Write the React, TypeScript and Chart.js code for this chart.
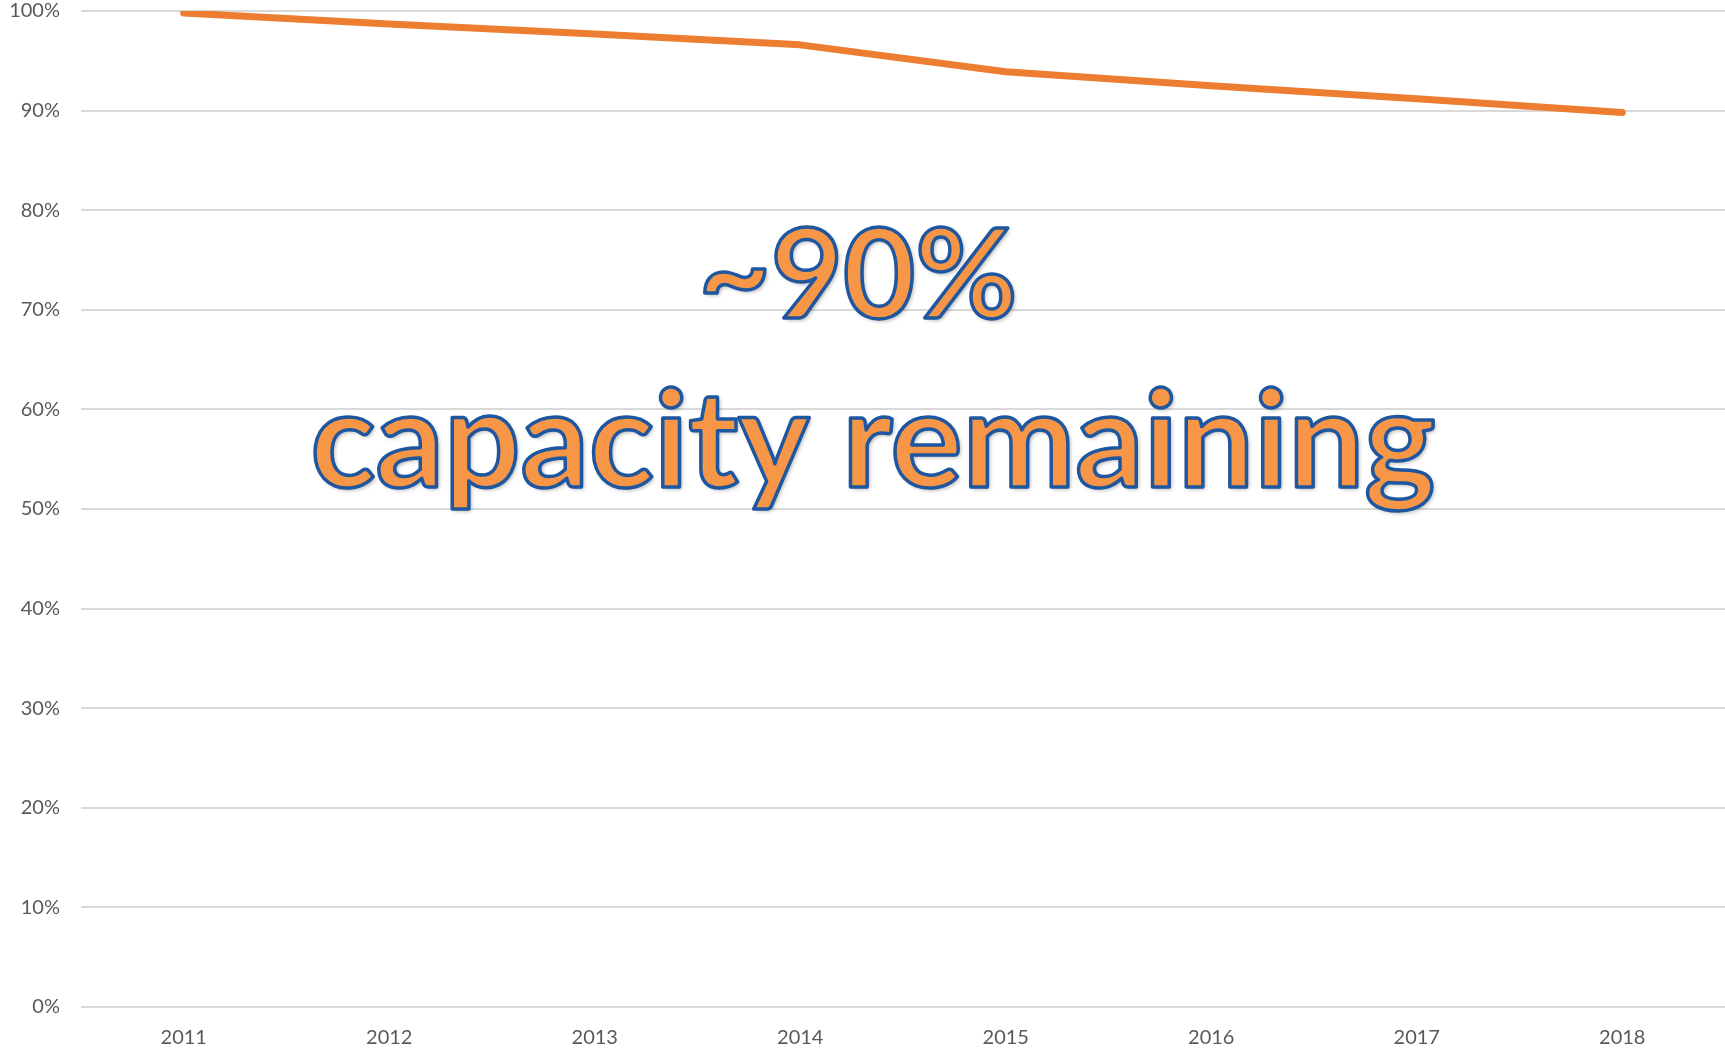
import React, { useEffect, useRef } from "react";
import { Chart, registerables } from "chart.js";

Chart.register(...registerables);

const years = ["2011", "2012", "2013", "2014", "2015", "2016", "2017", "2018"];
const capacity = [99.8, 98.7, 97.7, 96.6, 93.9, 92.5, 91.2, 89.8];
const headline = "~90%";
const subline = "capacity remaining";

const overlayPlugin = {
  id: "overlayText",
  afterDraw(chart: any) {
    const ctx = chart.ctx as CanvasRenderingContext2D;
    ctx.save();
    ctx.textAlign = "center";
    ctx.textBaseline = "alphabetic";
    const drawLine = (text: string, cx: number, baseline: number, targetWidth: number) => {
      ctx.font = "bold 150px Lato";
      const w = ctx.measureText(text).width;
      const size = 150 * targetWidth / w;
      ctx.font = `bold ${size}px Lato`;
      ctx.shadowColor = "rgba(0,0,0,0.35)";
      ctx.shadowBlur = 4;
      ctx.shadowOffsetX = 2;
      ctx.shadowOffsetY = 2;
      ctx.fillStyle = "#F79646";
      ctx.fillText(text, cx, baseline);
      ctx.shadowColor = "transparent";
      ctx.lineWidth = 3.5;
      ctx.lineJoin = "round";
      ctx.strokeStyle = "#1E56A0";
      ctx.strokeText(text, cx, baseline);
    };
    drawLine(headline, 858, 318, 319);
    drawLine(subline, 873, 487, 1125);
    ctx.restore();
  },
};

export default function App() {
  const ref = useRef<HTMLCanvasElement>(null);
  useEffect(() => {
    document.body.style.margin = "0";
    const chart = new Chart(ref.current!, {
      type: "line",
      data: {
        labels: years,
        datasets: [
          {
            data: capacity,
            borderColor: "#ED7D31",
            borderWidth: 7,
            borderCapStyle: "round",
            borderJoinStyle: "round",
            pointRadius: 0,
            tension: 0,
            fill: false,
          },
        ],
      },
      options: {
        animation: false,
        responsive: false,
        layout: { padding: { top: 11, right: 0, bottom: 0, left: 0 } },
        plugins: { legend: { display: false }, tooltip: { enabled: false } },
        scales: {
          x: {
            offset: true,
            grid: { display: false, drawTicks: false },
            border: { display: false },
            ticks: { color: "#595959", font: { family: "Lato", size: 20 }, padding: 19, maxRotation: 0 },
            afterFit: (s: any) => { s.height = 44; },
          },
          y: {
            min: 0,
            max: 100,
            grid: { color: "#D9D9D9", lineWidth: 2, drawTicks: false },
            border: { display: false },
            ticks: {
              stepSize: 10,
              color: "#595959",
              font: { family: "Lato", size: 20 },
              padding: 21,
              callback: (v: any) => `${v}%`,
            },
            afterFit: (s: any) => { s.width = 81; s.paddingTop = 0; s.paddingBottom = 0; },
          },
        },
      },
      plugins: [overlayPlugin],
    } as any);
    return () => chart.destroy();
  }, []);
  return (
    <div style={{ width: 1725, height: 1051 }}>
      <canvas ref={ref} width={1725} height={1051} style={{ display: "block" }} />
    </div>
  );
}
